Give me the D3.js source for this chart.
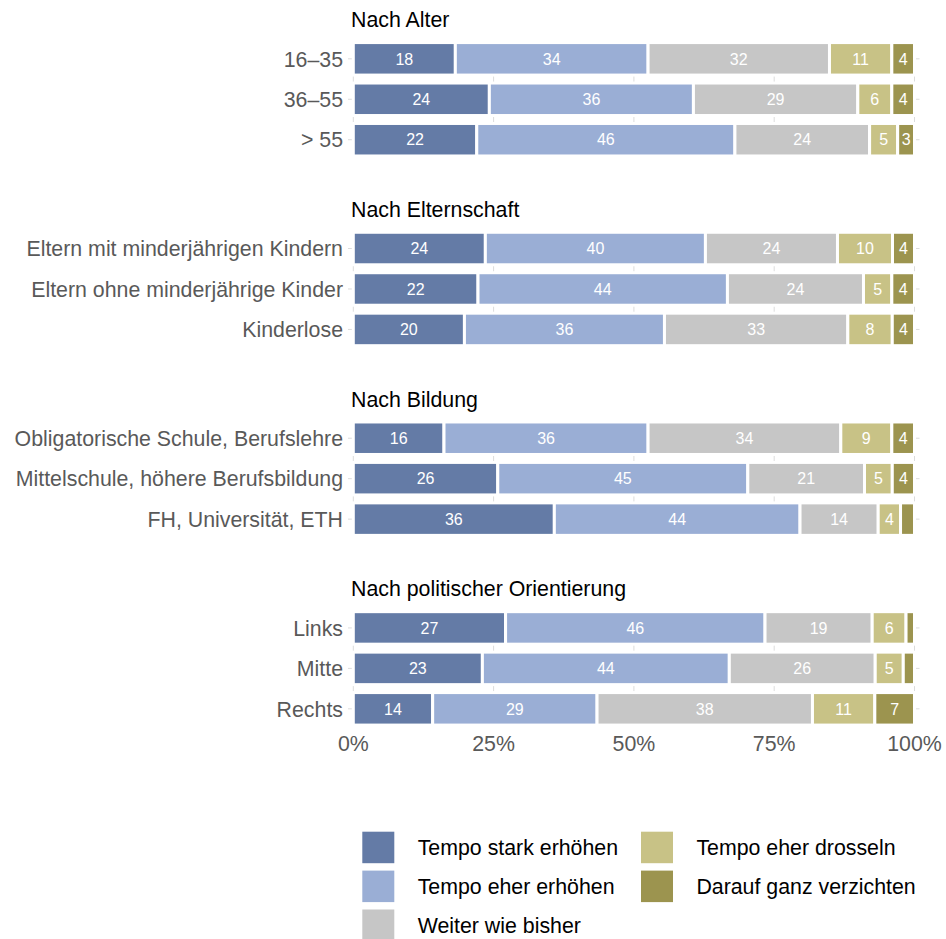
<!DOCTYPE html>
<html>
<head>
<meta charset="utf-8">
<script src="https://cdn.jsdelivr.net/npm/d3@7"></script>
<style>
  html, body { margin: 0; padding: 0; background: #ffffff; }
  svg { display: block; font-family: "Liberation Sans", Arial, Helvetica, sans-serif; }
</style>
</head>
<body>
<svg id="chart" width="946" height="939"></svg>
<script>
// ---------------- data ----------------
const groups = ["Nach Alter", "Nach Elternschaft", "Nach Bildung", "Nach politischer Orientierung"];
const categories = [
  ["16–35", "36–55", "> 55"],
  ["Eltern mit minderjährigen Kindern", "Eltern ohne minderjährige Kinder", "Kinderlose"],
  ["Obligatorische Schule, Berufslehre", "Mittelschule, höhere Berufsbildung", "FH, Universität, ETH"],
  ["Links", "Mitte", "Rechts"]
];
const seriesNames = ["Tempo stark erhöhen", "Tempo eher erhöhen", "Weiter wie bisher", "Tempo eher drosseln", "Darauf ganz verzichten"];
const starkErhoehen = [18, 24, 22, 24, 22, 20, 16, 26, 36, 27, 23, 14];
const eherErhoehen  = [34, 36, 46, 40, 44, 36, 36, 45, 44, 46, 44, 29];
const weiterWieBisher = [32, 29, 24, 24, 24, 33, 34, 21, 14, 19, 26, 38];
const eherDrosseln  = [11, 6, 5, 10, 5, 8, 9, 5, 4, 6, 5, 11];
const ganzVerzichten = [4, 4, 3, 4, 4, 4, 4, 4, 2.5, 1.5, 2, 7];
const tickValues = [0, 0.25, 0.5, 0.75, 1];
const tickLabels = ["0%", "25%", "50%", "75%", "100%"];
const colors = ["#647ba6", "#9aaed5", "#c6c6c6", "#c8c286", "#9c944f"];

// ---------------- build table ----------------
const seriesValues = [starkErhoehen, eherErhoehen, weiterWieBisher, eherDrosseln, ganzVerzichten];
const rows = [];
categories.forEach((cats, g) => cats.forEach((c, i) => {
  const idx = g * 3 + i;
  const r = { group: g, cat: c };
  seriesNames.forEach((s, k) => r[s] = seriesValues[k][idx]);
  rows.push(r);
}));
const stacked = d3.stack().keys(seriesNames).offset(d3.stackOffsetExpand)(rows);

// ---------------- layout ----------------
const svg = d3.select("#chart");
const x = d3.scaleLinear().domain([0, 1]).range([353.3, 914.5]);
const color = d3.scaleOrdinal().domain(seriesNames).range(colors);
const facetStep = 189.7, rowStep = 40.45, firstPanelTop = 38.6, barH = 32.5;
const panelLeft = 348, panelRight = 919.5;
const textColor = "#595959";
const gridColor = "#dcdcdc";

const yScales = groups.map((g, gi) => d3.scalePoint()
  .domain(categories[gi])
  .range([firstPanelTop + gi * facetStep, firstPanelTop + gi * facetStep + 3 * rowStep])
  .padding(0.5));

// facets
groups.forEach((g, gi) => {
  const y = yScales[gi];
  const cats = categories[gi];
  const gEl = svg.append("g");
  const top = y(cats[0]) - barH / 2, bottom = y(cats[cats.length - 1]) + barH / 2;

  // vertical gridlines
  gEl.selectAll("line.v").data(tickValues).join("line")
    .attr("x1", d => x(d)).attr("x2", d => x(d))
    .attr("y1", top).attr("y2", bottom)
    .attr("stroke", gridColor).attr("stroke-width", 1);
  // horizontal gridlines
  gEl.selectAll("line.h").data(cats).join("line")
    .attr("x1", panelLeft).attr("x2", panelRight)
    .attr("y1", d => y(d)).attr("y2", d => y(d))
    .attr("stroke", gridColor).attr("stroke-width", 1);

  // title
  svg.append("text")
    .attr("x", 351).attr("y", 27.3 + gi * facetStep)
    .attr("font-size", 21.33).attr("fill", "#000")
    .text(g);

  // y labels
  gEl.selectAll("text.ylab").data(cats).join("text")
    .attr("x", 343).attr("y", d => y(d))
    .attr("dy", "0.36em")
    .attr("text-anchor", "end")
    .attr("font-size", 21.33).attr("fill", textColor)
    .text(d => d);
});

// bars
stacked.forEach(layer => {
  const key = layer.key;
  const gl = svg.append("g");
  layer.forEach((seg, i) => {
    const r = rows[i];
    const y = yScales[r.group];
    gl.append("rect")
      .attr("x", x(seg[0]))
      .attr("width", x(seg[1]) - x(seg[0]))
      .attr("y", y(r.cat) - barH / 2)
      .attr("height", barH)
      .attr("fill", color(key))
      .attr("stroke", "#fff").attr("stroke-width", 3);
    const v = r[key];
    if (v >= 3) {
      gl.append("text")
        .attr("x", (x(seg[0]) + x(seg[1])) / 2)
        .attr("y", y(r.cat)).attr("dy", "0.36em")
        .attr("text-anchor", "middle")
        .attr("font-size", 16).attr("fill", "#fff")
        .text(d3.format("d")(Math.round(v)));
    }
  });
});

// x axis labels
svg.append("g").selectAll("text").data(tickValues).join("text")
  .attr("x", d => x(d)).attr("y", 750.5)
  .attr("text-anchor", "middle")
  .attr("font-size", 21.33).attr("fill", textColor)
  .text((d, i) => tickLabels[i]);

// legend
const legendCols = [[0, 1, 2], [3, 4]];
const colX = [362.3, 641];
const legY0 = 831.7, legStep = 38.9, sw = 32;
const leg = svg.append("g");
legendCols.forEach((col, ci) => col.forEach((k, ri) => {
  const yy = legY0 + ri * legStep;
  leg.append("rect")
    .attr("x", colX[ci]).attr("y", yy).attr("width", sw).attr("height", sw - 0.5)
    .attr("fill", color(seriesNames[k]));
  leg.append("text")
    .attr("x", colX[ci] + 55.4).attr("y", yy + sw / 2).attr("dy", "0.36em")
    .attr("font-size", 21.33).attr("fill", "#000")
    .text(seriesNames[k]);
}));
</script>
</body>
</html>
